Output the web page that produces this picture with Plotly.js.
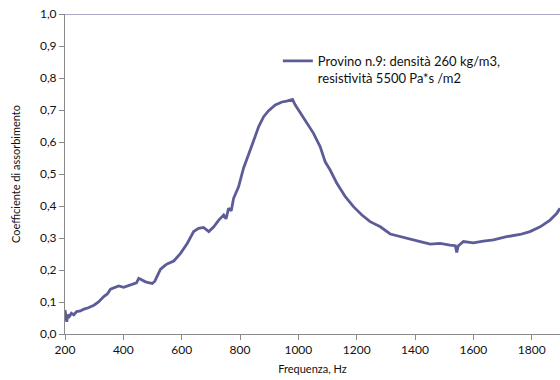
<!DOCTYPE html>
<html><head><meta charset="utf-8">
<script src="https://cdn.plot.ly/plotly-3.0.1.min.js"></script>
<style>html,body{margin:0;padding:0;background:#fff}#c{width:560px;height:380px}</style>
</head><body><div id="c"></div>
<script>
const freq = [200,203,206,210,215,222,230,240,253,265,280,299,315,333,345,356,370,384,401,415,430,445,453,465,476,490,499,508,516,527,540,550,573,596,619,641,658,675,693,710,727,744,752,761,770,778,795,812,829,847,864,881,898,921,944,960,972,980,989,1007,1030,1052,1069,1075,1092,1109,1132,1161,1189,1218,1246,1281,1315,1349,1383,1418,1452,1486,1520,1538,1543,1548,1566,1600,1634,1669,1714,1760,1794,1829,1863,1886,1897];
const alpha = [0.075,0.05,0.038,0.06,0.055,0.065,0.06,0.07,0.072,0.078,0.082,0.09,0.1,0.117,0.125,0.14,0.145,0.15,0.146,0.15,0.156,0.16,0.174,0.168,0.163,0.16,0.158,0.165,0.18,0.202,0.212,0.219,0.228,0.252,0.283,0.32,0.33,0.333,0.32,0.335,0.356,0.372,0.36,0.393,0.385,0.424,0.46,0.518,0.56,0.606,0.648,0.679,0.698,0.716,0.725,0.728,0.731,0.733,0.716,0.69,0.658,0.627,0.596,0.585,0.538,0.5125,0.471,0.429,0.398,0.372,0.351,0.335,0.3125,0.304,0.296,0.289,0.281,0.283,0.278,0.276,0.255,0.275,0.289,0.285,0.29,0.294,0.304,0.311,0.32,0.335,0.356,0.377,0.393];
const seriesName = 'Provino n.9: densità 260 kg/m3,<br>resistività 5500 Pa*s /m2';
const yTicks = [0,0.1,0.2,0.3,0.4,0.5,0.6,0.7,0.8,0.9,1.0];
const yTickText = ['0,0','0,1','0,2','0,3','0,4','0,5','0,6','0,7','0,8','0,9','1,0'];
const xTicks = [200,400,600,800,1000,1200,1400,1600,1800];

const font = 'Lato, "Open Sans", sans-serif';
Plotly.newPlot('c', [{
  x: freq, y: alpha, type: 'scatter', mode: 'lines', name: seriesName,
  line: {color: '#5c5c98', width: 2.8}
}], {
  width: 560, height: 380,
  margin: {l: 65, r: 0, t: 14, b: 46},
  paper_bgcolor: '#fff', plot_bgcolor: '#fff',
  showlegend: true,
  font: {family: font, color: '#111'},
  legend: {x: 0.43, y: 0.9, xanchor: 'left', yanchor: 'top', bgcolor: 'rgba(0,0,0,0)',
           font: {size: 13, color: '#111', family: font}, valign: 'top', itemwidth: 30},
  xaxis: {range: [200, 1897], tickvals: xTicks, ticktext: xTicks.map(String),
          showgrid: false, zeroline: false, showline: true, linecolor: '#8a8a8a', linewidth: 1,
          ticks: 'outside', ticklen: 5, tickcolor: '#8a8a8a',
          tickfont: {size: 12, color: '#111'},
          title: {text: 'Frequenza, Hz', font: {size: 11, color: '#111'}, standoff: 8}},
  yaxis: {range: [0, 1], tickvals: yTicks, ticktext: yTickText,
          showgrid: false, zeroline: false, showline: true, linecolor: '#8a8a8a', linewidth: 1,
          ticks: 'outside', ticklen: 5, tickcolor: '#8a8a8a',
          tickfont: {size: 12, color: '#111'},
          title: {text: 'Coefficiente di assorbimento', font: {size: 11, color: '#111'}, standoff: 17}},
  shapes: [{type: 'line', xref: 'paper', yref: 'y', x0: 0, x1: 1, y0: 1, y1: 1,
            line: {color: '#8c8cb4', width: 1.5}}]
}, {displayModeBar: false, staticPlot: true});
</script></body></html>
